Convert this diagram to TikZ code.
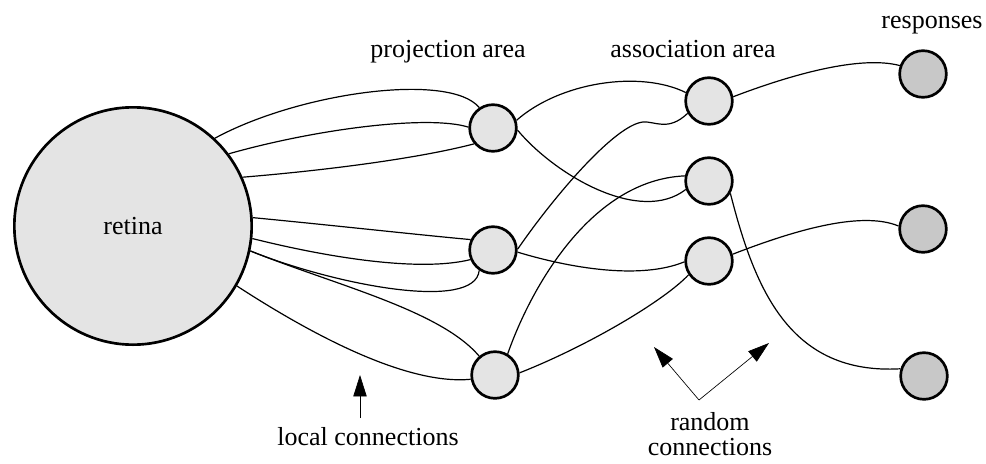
\documentclass[tikz,border=0pt]{standalone}
\usepackage{fontspec}
\setmainfont{Liberation Serif}
\newfontfamily\figfont{Liberation Serif}
\usetikzlibrary{arrows.meta}
\definecolor{cellcolor}{HTML}{E4E4E4}
\definecolor{respcolor}{HTML}{C8C8C8}

\begin{document}
\begin{tikzpicture}[x=0.75pt, y=-0.75pt,
    unit/.style={draw, circle, line width=2pt, minimum size=35pt,
                 inner sep=0pt, fill=cellcolor},
    resp/.style={unit, fill=respcolor},
    link/.style={line width=0.9pt},
    pointer/.style={line width=0.5pt, -{Triangle[length=16pt, width=10pt]}},
    lbl/.style={font=\figfont\fontsize{19.5}{19}\selectfont, anchor=base, inner sep=0pt}
]
    \useasboundingbox (0,0) rectangle (986,464);

    \node[unit, minimum size=178pt, font=\figfont\fontsize{19.5}{19}\selectfont] (ret) at (133,226) {retina};

    \node[unit] (p1) at (493,128) {};
    \node[unit] (p2) at (493,250) {};
    \node[unit] (p3) at (495,375) {};

    \node[unit] (a1) at (709,101) {};
    \node[unit] (a2) at (709,181) {};
    \node[unit] (a3) at (709,261) {};

    \node[resp] (r1) at (923,74) {};
    \node[resp] (r2) at (923,229) {};
    \node[resp] (r3) at (924,376) {};

    \node[lbl] (projlbl) at (448,57) {projection area};
    \node[lbl] (assoclbl) at (693,57) {association area};
    \node[lbl] (resplbl) at (932,28) {responses};
    \node[lbl] (locallbl) at (368,445) {local connections};
    \node[lbl] (randlbl) at (710,430) {random};
    \node[lbl] (connlbl) at (710,455) {connections};

    % retina to projection area
    \draw[link] (ret.47) .. controls (300,92) and (450,72) .. (p1.124);
    \draw[link] (ret.37) .. controls (320,128) and (430,115) .. (p1.178);
    \draw[link] (ret.24) .. controls (330,170) and (420,158) .. (p1.220);
    \draw[link] (ret.4) .. controls (330,225) and (420,235) .. (p2.155);
    \draw[link] (ret.-6) .. controls (330,258) and (420,272) .. (p2.203);
    \draw[link] (ret.-12) .. controls (335,285) and (475,312) .. (p2.236);
    \draw[link] (ret.-12) .. controls (335,285) and (440,310) .. (p3.130);
    \draw[link] (ret.-30) .. controls (320,340) and (410,385) .. (p3.190);

    % projection area to association area
    \draw[link] (p1.18) .. controls (560,82) and (640,70) .. (a1.160);
    \draw[link] (p1.-5) .. controls (555,175) and (640,225) .. (a2.200);
    \draw[link] (p2.2) .. controls (555,195) and (615,125) .. (643,122)
                       .. controls (655,121) and (668,132) .. (a1.210);
    \draw[link] (p2.-5) .. controls (570,268) and (640,280) .. (a3.182);
    \draw[link] (p3.59) .. controls (530,290) and (590,180) .. (a2.168);
    \draw[link] (p3.5) .. controls (590,345) and (665,300) .. (a3.214);

    % association area to responses
    \draw[link] (a1.10) .. controls (790,75) and (860,55) .. (r1.160);
    \draw[link] (a3.16) .. controls (790,232) and (860,210) .. (r2.173);
    \draw[link] (a2.-30) .. controls (755,290) and (790,375) .. (r3.163);

    \coordinate (loctail) at (360,418);
    \coordinate (loctip) at (360,375);
    \draw[pointer] (loctail) -- (loctip);

    \coordinate (randfork) at (699,400);
    \coordinate (randleft) at (654,347);
    \coordinate (randright) at (769,343);
    \draw[pointer] (randfork) -- (randleft);
    \draw[pointer] (randfork) -- (randright);
\end{tikzpicture}
\end{document}
